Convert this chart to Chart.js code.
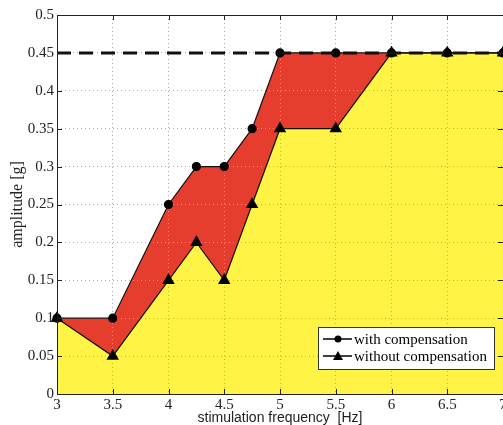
<!DOCTYPE html>
<html>
<head>
<meta charset="utf-8">
<script src="https://cdn.jsdelivr.net/npm/chart.js@4/dist/chart.umd.min.js"></script>
<style>
  html, body { margin: 0; padding: 0; background: #fff; }
  #wrap { width: 503px; height: 425px; }
</style>
</head>
<body>
<div id="wrap"><canvas id="chart" width="503" height="425"></canvas></div>
<script>
// frequencies [Hz]
const freqs = [3, 3.5, 4, 4.25, 4.5, 4.75, 5, 5.5, 6, 6.5, 7];
// amplitude [g]
const withComp = [0.1, 0.1, 0.25, 0.3, 0.3, 0.35, 0.45, 0.45, 0.45, 0.45, 0.45];
const withoutComp = [0.1, 0.05, 0.15, 0.2, 0.15, 0.25, 0.35, 0.35, 0.45, 0.45, 0.45];
const limitLine = [0.45, 0.45];
const limitX = [3, 7];
const xTicks = [3, 3.5, 4, 4.5, 5, 5.5, 6, 6.5, 7];
const yTicks = [0, 0.05, 0.1, 0.15, 0.2, 0.25, 0.3, 0.35, 0.4, 0.45, 0.5];

const serif = "'Liberation Serif', 'DejaVu Serif', serif";
const pts = (xs, ys) => xs.map((x, i) => ({ x: x, y: ys[i] }));

// matlab-like box: inner ticks + legend inside the axes
const boxPlugin = {
    id: 'box',
    afterDraw(chart) {
        const { ctx, chartArea: a, scales: { x, y } } = chart;
        ctx.save();
        ctx.strokeStyle = '#222';
        ctx.lineWidth = 1;
        ctx.strokeRect(a.left + 0.5, a.top + 0.5, a.right - a.left, a.bottom - a.top);
        ctx.beginPath();
        xTicks.forEach(v => {
            const px = Math.round(x.getPixelForValue(v)) + 0.5;
            ctx.moveTo(px, a.bottom); ctx.lineTo(px, a.bottom - 5);
            ctx.moveTo(px, a.top); ctx.lineTo(px, a.top + 5);
        });
        yTicks.forEach(v => {
            const py = Math.round(y.getPixelForValue(v)) + 0.5;
            ctx.moveTo(a.left, py); ctx.lineTo(a.left + 5, py);
            ctx.moveTo(a.right, py); ctx.lineTo(a.right - 5, py);
        });
        ctx.stroke();

        // legend
        const lx = 318, ly = 327, lw = 176, lh = 42;
        ctx.fillStyle = '#fff';
        ctx.fillRect(lx, ly, lw, lh);
        ctx.strokeStyle = '#333';
        ctx.strokeRect(lx + 0.5, ly + 0.5, lw, lh);
        ctx.font = '15px ' + serif;
        ctx.textBaseline = 'middle';
        const rows = [['with compensation', 'circle'], ['without compensation', 'triangle']];
        rows.forEach((r, i) => {
            const cy = ly + 12 + i * 17;
            ctx.strokeStyle = '#000';
            ctx.lineWidth = 1.5;
            ctx.beginPath(); ctx.moveTo(lx + 5, cy); ctx.lineTo(lx + 34, cy); ctx.stroke();
            ctx.fillStyle = '#000';
            ctx.beginPath();
            if (r[1] === 'circle') {
                ctx.arc(lx + 20, cy, 3.5, 0, Math.PI * 2);
            } else {
                ctx.moveTo(lx + 20, cy - 5); ctx.lineTo(lx + 25, cy + 4); ctx.lineTo(lx + 15, cy + 4); ctx.closePath();
            }
            ctx.fill();
            ctx.fillText(r[0], lx + 36, cy + 1);
        });
        ctx.restore();
    }
};

new Chart(document.getElementById('chart'), {
    type: 'line',
    data: {
        datasets: [
            {
                label: 'with compensation',
                data: pts(freqs, withComp),
                borderColor: '#111',
                borderWidth: 1.2,
                backgroundColor: '#e53d2e',
                fill: '+1',
                pointStyle: 'circle',
                pointRadius: 4,
                pointBackgroundColor: '#000',
                pointBorderColor: '#000',
                clip: 8,
                order: 1
            },
            {
                label: 'without compensation',
                data: pts(freqs, withoutComp),
                borderColor: '#111',
                borderWidth: 1.2,
                backgroundColor: '#fff445',
                fill: 'origin',
                pointStyle: 'triangle',
                pointRadius: 6,
                pointBackgroundColor: '#000',
                pointBorderColor: '#000',
                clip: 8,
                order: 2
            },
            {
                label: 'limit',
                data: pts(limitX, limitLine),
                borderColor: '#111',
                borderWidth: 3,
                borderDash: [14, 8],
                pointRadius: 0,
                fill: false,
                order: 0
            }
        ]
    },
    options: {
        responsive: false,
        animation: false,
        layout: { autoPadding: false, padding: { top: 15, right: 0, left: 0, bottom: 0 } },
        plugins: {
            legend: { display: false },
            tooltip: { enabled: false },
            filler: { drawTime: 'beforeDraw' }
        },
        scales: {
            x: {
                type: 'linear',
                min: 3, max: 7,
                afterBuildTicks: s => { s.ticks = xTicks.map(v => ({ value: v })); },
                afterFit: s => { s.height = 31; s.paddingRight = 0; s.paddingLeft = 0; },
                ticks: {
                    color: '#222',
                    font: { family: serif, size: 15 },
                    padding: 2,
                    callback: v => String(v)
                },
                grid: { color: '#aaa', lineWidth: 1, drawTicks: false },
                border: { display: false, dash: [1, 3] },
                title: {
                    display: true,
                    text: 'stimulation frequency  [Hz]',
                    color: '#222',
                    font: { family: "'Liberation Sans', Arial, sans-serif", size: 14 },
                    padding: { top: 0, bottom: -2 }
                }
            },
            y: {
                min: 0, max: 0.5,
                afterBuildTicks: s => { s.ticks = yTicks.map(v => ({ value: v })); },
                afterFit: s => { s.width = 57; },
                ticks: {
                    color: '#222',
                    font: { family: serif, size: 15 },
                    padding: 3,
                    callback: v => String(+v.toFixed(2))
                },
                grid: { color: '#aaa', lineWidth: 1, drawTicks: false },
                border: { display: false, dash: [1, 3] },
                title: {
                    display: true,
                    text: 'amplitude [g]',
                    color: '#222',
                    font: { family: serif, size: 16 },
                    padding: { top: 8, bottom: 0 }
                }
            }
        }
    },
    plugins: [boxPlugin]
});
</script>
</body>
</html>
